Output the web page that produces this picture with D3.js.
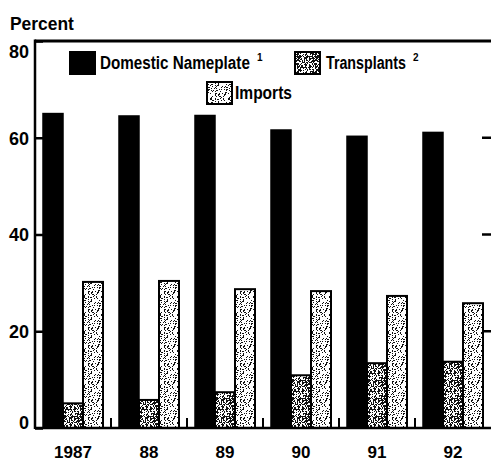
<!DOCTYPE html>
<html>
<head>
<meta charset="utf-8">
<script src="https://d3js.org/d3.v7.min.js"></script>
<style>
    body { margin: 0; background: #fff; }
    svg { display: block; }
    text { font-family: "Liberation Sans", Arial, sans-serif; font-weight: bold; fill: #000; }
</style>
</head>
<body>
<script>
(function(){

// data
var years = ["1987", "88", "89", "90", "91", "92"];
var domestic = [65.0, 64.5, 64.6, 61.6, 60.3, 61.1];
var transplants = [5.1, 5.8, 7.4, 10.9, 13.4, 13.7];
var imports = [30.2, 30.4, 28.7, 28.3, 27.3, 25.8];
var seriesNames = ["Domestic Nameplate", "Transplants", "Imports"];
var yTicks = [0, 20, 40, 60, 80];

// svg + plot frame
var width = 491,
    height = 462,
    left = 35,
    right = 491,
    top = 41,
    bottom = 428;

var svg = d3.select("body")
    .append("svg")
    .attr("width", width)
    .attr("height", height);

// stipple patterns for the scanned screens
var defs = svg.append("defs");

function hash(i, j, s){
    var v = Math.sin(i * 12.9898 + j * 78.233 + s * 37.719) * 43758.5453;
    return v - Math.floor(v);
};

function makeStipple(id, density, seed){
    var size = 18;
    var p = defs.append("pattern")
        .attr("id", id)
        .attr("patternUnits", "userSpaceOnUse")
        .attr("width", size)
        .attr("height", size);
    p.append("rect")
        .attr("width", size)
        .attr("height", size)
        .attr("fill", "#fff");
    for (var i = 0; i < size; i++){
        for (var j = 0; j < size; j++){
            if (hash(i, j, seed) < density){
                p.append("rect")
                    .attr("x", i)
                    .attr("y", j)
                    .attr("width", 1)
                    .attr("height", 1)
                    .attr("fill", "#111");
            };
        };
    };
};
makeStipple("stTrans", 0.5, 1);
makeStipple("stImp", 0.2, 2);

var fills = ["#000", "url(#stTrans)", "url(#stImp)"];

// scales
var x = d3.scaleBand()
    .domain(years)
    .range([left, right]);

var xSub = d3.scaleBand()
    .domain(seriesNames)
    .range([8, 68]);

var y = d3.scaleLinear()
    .domain([0, 80])
    .range([bottom, top]);

// table built from the arrays
var table = years.map(function(yr, i){
    return {year: yr, values: [domestic[i], transplants[i], imports[i]]};
});

// bars
var groups = svg.selectAll(".group")
    .data(table)
    .enter()
    .append("g")
    .attr("class", "group")
    .attr("transform", function(d){ return "translate(" + x(d.year) + ",0)"; });

groups.selectAll("rect")
    .data(function(d){
        return d.values.map(function(v, k){ return {name: seriesNames[k], value: v, k: k}; });
    })
    .enter()
    .append("rect")
    .attr("x", function(d){ return xSub(d.name); })
    .attr("y", function(d){ return y(d.value); })
    .attr("width", xSub.bandwidth())
    .attr("height", function(d){ return bottom - y(d.value); })
    .attr("fill", function(d){ return fills[d.k]; })
    .attr("stroke", "#000")
    .attr("stroke-width", function(d){ return d.k == 0 ? 1.5 : 2; });

// frame
svg.append("line")
    .attr("x1", left).attr("x2", right + 1)
    .attr("y1", top).attr("y2", top)
    .attr("stroke", "#000").attr("stroke-width", 3);
svg.append("line")
    .attr("x1", left).attr("x2", left)
    .attr("y1", top - 1.5).attr("y2", bottom + 1)
    .attr("stroke", "#000").attr("stroke-width", 2.5);
svg.append("line")
    .attr("x1", left).attr("x2", right + 1)
    .attr("y1", bottom).attr("y2", bottom)
    .attr("stroke", "#000").attr("stroke-width", 2.5);

// left axis, ticks pointing inward
var yAxis = svg.append("g")
    .attr("transform", "translate(" + left + ",0)")
    .call(d3.axisLeft(y)
        .tickValues(yTicks)
        .tickSizeInner(-8)
        .tickSizeOuter(0)
        .tickPadding(6));
yAxis.select(".domain").remove();
yAxis.selectAll("line").attr("stroke", "#000").attr("stroke-width", 2.5);
yAxis.selectAll("text")
    .attr("font-size", 18)
    .attr("font-family", null)
    .attr("dy", function(d){
        if (d == 80) return "0.9em";
        if (d == 0) return "0";
        return "0.36em";
    });

// right side ticks
svg.selectAll(".rtick")
    .data(yTicks.slice(1, 4))
    .enter()
    .append("line")
    .attr("class", "rtick")
    .attr("x1", right - 9).attr("x2", right)
    .attr("y1", function(d){ return y(d); })
    .attr("y2", function(d){ return y(d); })
    .attr("stroke", "#000").attr("stroke-width", 2.5);

// bottom axis labels
var xAxis = svg.append("g")
    .attr("transform", "translate(0," + bottom + ")")
    .call(d3.axisBottom(x).tickSize(0).tickPadding(0));
xAxis.select(".domain").remove();
xAxis.selectAll("text")
    .attr("font-size", 17)
    .attr("font-family", null)
    .attr("dy", "1.75em");

// group separator ticks on the baseline
svg.selectAll(".sep")
    .data(years.slice(1))
    .enter()
    .append("line")
    .attr("class", "sep")
    .attr("x1", function(d){ return x(d); })
    .attr("x2", function(d){ return x(d); })
    .attr("y1", bottom)
    .attr("y2", bottom - 10)
    .attr("stroke", "#000").attr("stroke-width", 2);

// squeeze a text to a given width (the original type is condensed)
function narrow(sel, tx, ty, tw){
    var w = sel.node().getComputedTextLength();
    sel.attr("transform", "translate(" + tx + "," + ty + ") scale(" + (tw / w) + ",1)");
};

// y title
var title = svg.append("text")
    .attr("font-size", 19)
    .text("Percent");
narrow(title, 10, 29.5, 64);

// legend
var legend = [
    {label: seriesNames[0], sup: "1", sx: 70, sy: 52, tx: 100, tw: 150, k: 0},
    {label: seriesNames[1], sup: "2", sx: 295, sy: 52, tx: 326, tw: 80, k: 1},
    {label: seriesNames[2], sup: "", sx: 207, sy: 82, tx: 235, tw: 57, k: 2}
];

var items = svg.selectAll(".legend")
    .data(legend)
    .enter()
    .append("g")
    .attr("class", "legend");

items.append("rect")
    .attr("x", function(d){ return d.sx; })
    .attr("y", function(d){ return d.sy; })
    .attr("width", 25)
    .attr("height", 22)
    .attr("fill", function(d){ return fills[d.k]; })
    .attr("stroke", "#000")
    .attr("stroke-width", 2);

items.append("text")
    .attr("font-size", 18.5)
    .text(function(d){ return d.label; })
    .each(function(d){
        narrow(d3.select(this), d.tx, d.sy + 16.5, d.tw);
    });

items.filter(function(d){ return d.sup != ""; })
    .append("text")
    .attr("x", function(d){ return d.tx + d.tw + 7; })
    .attr("y", function(d){ return d.sy + 9; })
    .attr("font-size", 10)
    .text(function(d){ return d.sup; });

})();
</script>
</body>
</html>
